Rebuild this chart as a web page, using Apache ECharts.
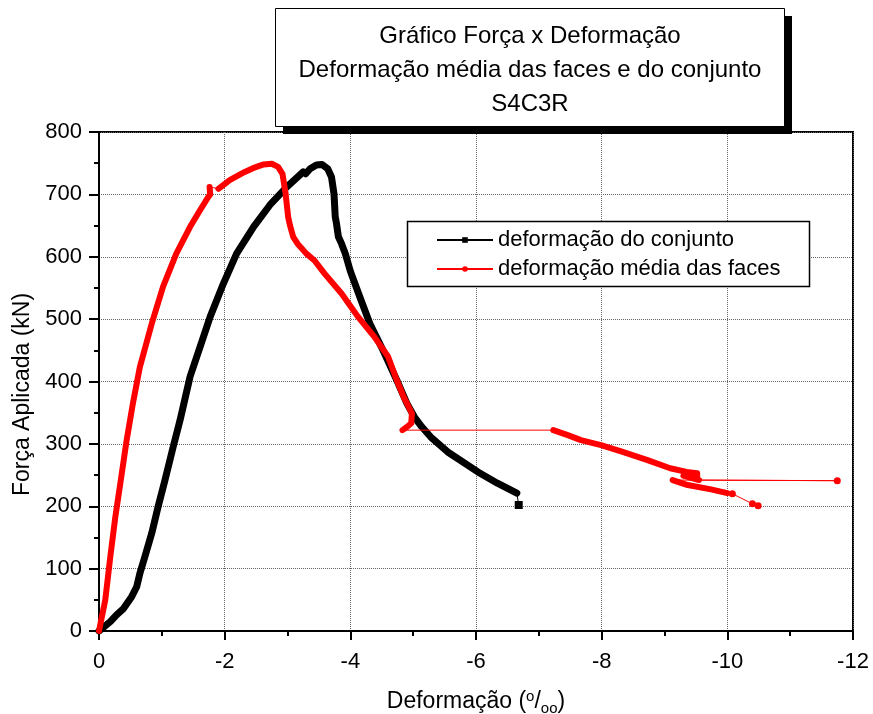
<!DOCTYPE html>
<html>
<head>
<meta charset="utf-8">
<script src="https://cdn.jsdelivr.net/npm/echarts@6/dist/echarts.min.js"></script>
<style>
  html, body { margin: 0; padding: 0; background: #fff; }
  #chart { width: 873px; height: 714px; }
</style>
</head>
<body>
<div id="chart"></div>
<script>
// Eixos
const defTicks = [0, -2, -4, -6, -8, -10, -12];
const forcaTicks = [0, 100, 200, 300, 400, 500, 600, 700, 800];

// Deformação do conjunto (‰) x Força (kN)
const conjuntoDef = [0, -0.18, -0.28, -0.39, -0.52, -0.60, -0.65, -0.73, -0.84, -0.94, -1.05, -1.18, -1.29, -1.37,
  -1.45, -1.61, -1.77, -1.98, -2.19, -2.46, -2.72, -2.99, -3.25, -3.29, -3.36, -3.46, -3.55, -3.64, -3.70,
  -3.74, -3.76, -3.78, -3.81, -3.86, -3.92, -4.00, -4.15, -4.31, -4.52, -4.74, -4.90, -5.02, -5.14, -5.28,
  -5.55, -6.03, -6.34, -6.65];
const conjuntoForca = [0, 15, 26, 36, 55, 71, 92, 119, 157, 199, 242, 295, 338, 373,
  408, 456, 504, 557, 605, 648, 683, 712, 736, 733, 741, 747, 748, 741, 728,
  701, 664, 653, 632, 621, 605, 577, 536, 493, 450, 402, 365, 343, 327, 311,
  287, 255, 237, 221];
// última leitura do conjunto
const conjuntoFimDef = [-6.68];
const conjuntoFimForca = [202];

// Deformação média das faces (‰) x Força (kN), trechos contínuos
const facesTrecho1Def = [0, -0.05, -0.10, -0.18, -0.26, -0.34, -0.44, -0.54, -0.65, -0.84, -1.02, -1.23, -1.45,
  -1.61, -1.74, -1.77, -1.76];
const facesTrecho1Forca = [0, 25, 50, 119, 183, 237, 306, 365, 423, 493, 552, 605, 648,
  675, 696, 700, 712];
const facesTrecho2Def = [-1.90, -2.08, -2.32, -2.45, -2.62, -2.75, -2.85, -2.92, -2.97, -3.01, -3.04, -3.09,
  -3.16, -3.30, -3.43, -3.59, -3.86, -4.12, -4.38, -4.60, -4.74, -4.85, -4.98, -4.97, -4.90, -4.83];
const facesTrecho2Forca = [709, 723, 736, 742, 748, 749, 744, 733, 701, 664, 650, 632,
  621, 605, 594, 573, 541, 504, 472, 440, 402, 375, 349, 333, 327, 322];
const facesTrecho3Def = [-7.23, -7.46, -7.67, -7.99, -8.31, -8.73, -9.09, -9.35, -9.52, -9.52, -9.30, -9.55];
const facesTrecho3Forca = [322, 314, 306, 298, 288, 274, 261, 255, 253, 246, 249, 242];
const facesSaltoDef = [-11.75];
const facesSaltoForca = [241];
const facesTrecho4Def = [-9.13, -9.37, -9.74, -10.00];
const facesTrecho4Forca = [242, 234, 227, 221];
const facesCaudaDef = [-10.08, -10.40, -10.49];
const facesCaudaForca = [220, 204, 201];

const FONT = '"Liberation Sans", Arial, Helvetica, sans-serif';
const pares = (xs, ys) => xs.map((x, i) => [x, ys[i]]);

const conjuntoDenso = pares(conjuntoDef, conjuntoForca);
const conjuntoCompleto = conjuntoDenso.concat(pares(conjuntoFimDef, conjuntoFimForca));
const conjuntoMarcas = new Set([conjuntoCompleto.length - 1]);

// caminho completo das faces na ordem de leitura
const facesPartes = [
  [pares(facesTrecho1Def, facesTrecho1Forca), false],
  [pares(facesTrecho2Def, facesTrecho2Forca), false],
  [pares(facesTrecho3Def, facesTrecho3Forca), false],
  [pares(facesSaltoDef, facesSaltoForca), true],
  [pares(facesTrecho4Def, facesTrecho4Forca), false],
  [pares(facesCaudaDef, facesCaudaForca), true]
];
const facesCompleto = [];
const facesMarcas = new Set();
facesPartes.forEach(([pts, isolado]) => {
  pts.forEach(p => {
    if (isolado) facesMarcas.add(facesCompleto.length);
    facesCompleto.push(p);
  });
});

const PRETO = '#000000';
const VERMELHO = '#ff0000';

function tracoGrosso(nome, dados, cor, largura, z) {
  return {
    name: nome, type: 'line', data: dados, symbol: 'none', z: z,
    lineStyle: { color: cor, width: largura, cap: 'round', join: 'round' },
    itemStyle: { color: cor }, silent: true, animation: false
  };
}

const chart = echarts.init(document.getElementById('chart'), null, { renderer: 'canvas' });
chart.setOption({
  animation: false,
  backgroundColor: '#ffffff',
  textStyle: { fontFamily: FONT },
  grid: {
    left: 99, top: 132, right: 20, bottom: 83,
    containLabel: false, outerBoundsMode: 'none',
    show: true, borderColor: PRETO, borderWidth: 2, backgroundColor: 'transparent'
  },
  xAxis: {
    type: 'value', min: -12, max: 0, interval: 2, inverse: true,
    name: 'Deformação ({sup|o}/{sub|oo})',
    nameLocation: 'middle', nameGap: 44,
    nameTextStyle: {
      fontSize: 23, color: PRETO, fontFamily: FONT, lineHeight: 48,
      rich: {
        sup: { fontSize: 15, color: PRETO, fontFamily: FONT, lineHeight: 15, verticalAlign: 'top', padding: [11, 0, 0, 0] },
        sub: { fontSize: 15, color: PRETO, fontFamily: FONT, lineHeight: 15, verticalAlign: 'bottom', padding: [0, 0, 10, 0] }
      }
    },
    axisLine: { show: true, onZero: false, lineStyle: { color: PRETO, width: 2 } },
    axisTick: { show: true, inside: false, length: 9, lineStyle: { color: PRETO, width: 2 } },
    minorTick: { show: true, splitNumber: 2, length: 5, lineStyle: { color: PRETO, width: 2 } },
    axisLabel: {
      fontSize: 22, color: PRETO, fontFamily: FONT, margin: 20,
      formatter: v => defTicks.includes(v) ? String(v) : ''
    },
    splitLine: { show: true, lineStyle: { color: '#666', width: 1, type: 'dotted' } }
  },
  yAxis: {
    type: 'value', min: 0, max: 800, interval: 100,
    name: 'Força Aplicada (kN)',
    nameLocation: 'middle', nameGap: 64,
    nameTextStyle: { fontSize: 23, color: PRETO, fontFamily: FONT, padding: [0, 26, 0, 0] },
    axisLine: { show: true, onZero: false, lineStyle: { color: PRETO, width: 2 } },
    axisTick: { show: true, inside: false, length: 10, lineStyle: { color: PRETO, width: 2 } },
    minorTick: { show: true, splitNumber: 2, length: 5, lineStyle: { color: PRETO, width: 2 } },
    axisLabel: {
      fontSize: 22, color: PRETO, fontFamily: FONT, margin: 17,
      formatter: v => forcaTicks.includes(v) ? String(v) : ''
    },
    splitLine: { show: true, lineStyle: { color: '#666', width: 1, type: 'dotted' } }
  },
  legend: {
    data: ['deformação do conjunto', 'deformação média das faces'],
    orient: 'vertical', left: 436, top: 229, padding: 0,
    itemWidth: 56, itemHeight: 7, itemGap: 7,
    selectedMode: false, z: 6,
    textStyle: { fontSize: 22, color: PRETO, fontFamily: FONT }
  },
  graphic: [
    // caixa do título com sombra
    { type: 'rect', z: 10, silent: true, shape: { x: 283, y: 16, width: 509, height: 118 }, style: { fill: PRETO } },
    { type: 'rect', z: 11, silent: true, shape: { x: 275.5, y: 8.5, width: 509, height: 118 }, style: { fill: '#fff', stroke: PRETO, lineWidth: 1 } },
    {
      type: 'text', z: 12, silent: true, x: 530, y: 70,
      style: {
        text: 'Gráfico Força x Deformação\nDeformação média das faces e do conjunto\nS4C3R',
        font: '24px ' + FONT, fill: PRETO, align: 'center', verticalAlign: 'middle', lineHeight: 34
      }
    },
    // moldura da legenda
    { type: 'rect', z: 3, silent: true, shape: { x: 407.5, y: 221.5, width: 402, height: 65 }, style: { fill: '#fff', stroke: PRETO, lineWidth: 1.5 } }
  ],
  series: [
    tracoGrosso('conjunto (leituras)', conjuntoDenso, PRETO, 7, 2),
    {
      name: 'deformação do conjunto', type: 'line', data: conjuntoCompleto, z: 2,
      showSymbol: true, showAllSymbol: true, symbol: 'rect',
      symbolSize: (v, p) => conjuntoMarcas.has(p.dataIndex) ? 8 : 0,
      lineStyle: { color: PRETO, width: 1 }, itemStyle: { color: PRETO }
    },
    {
      name: 'deformação média das faces', type: 'line', data: facesCompleto, z: 3,
      showSymbol: true, showAllSymbol: true, symbol: 'circle',
      symbolSize: (v, p) => facesMarcas.has(p.dataIndex) ? 7 : 0,
      lineStyle: { color: VERMELHO, width: 1 }, itemStyle: { color: VERMELHO }
    },
    tracoGrosso('faces (trecho 1)', facesPartes[0][0], VERMELHO, 6, 3),
    tracoGrosso('faces (trecho 2)', facesPartes[1][0], VERMELHO, 6, 3),
    tracoGrosso('faces (trecho 3)', facesPartes[2][0], VERMELHO, 6, 3),
    tracoGrosso('faces (trecho 4)', facesPartes[4][0], VERMELHO, 6, 3)
  ]
});
</script>
</body>
</html>
